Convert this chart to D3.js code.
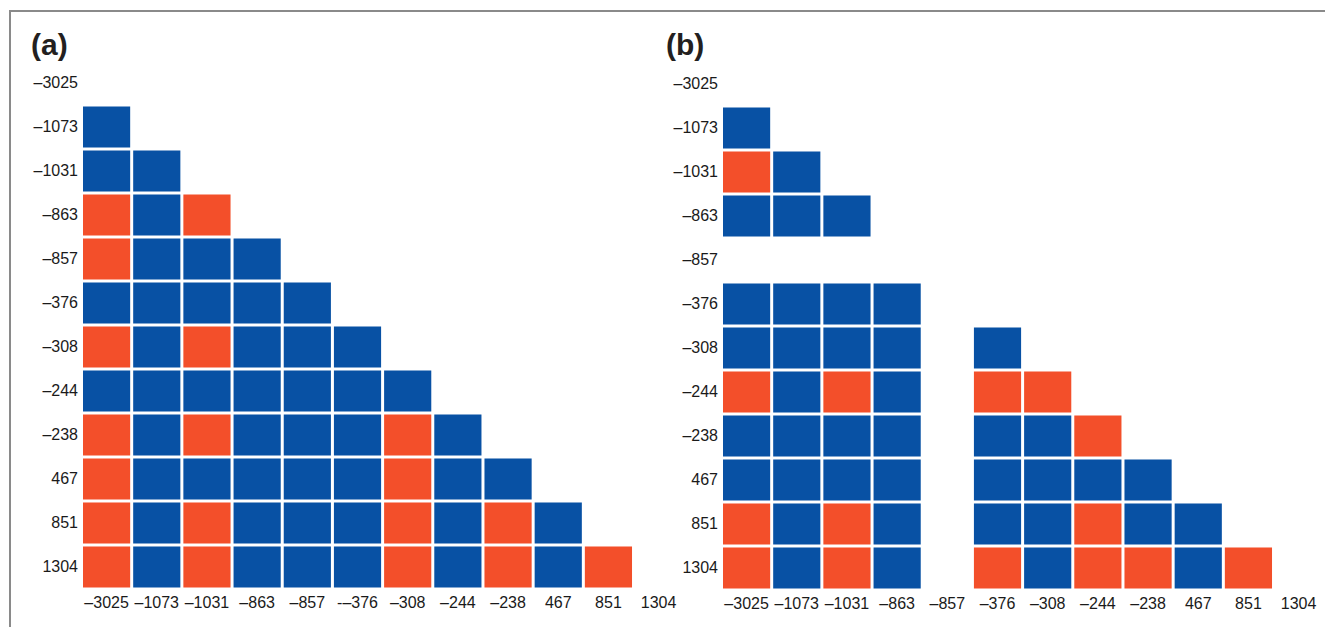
<!DOCTYPE html>
<html>
<head>
    <title>Pairwise matrix</title>
    <script src="https://d3js.org/d3.v7.min.js"></script>
    <style>
        body { margin: 0; background: #fff; }
        text { font-family: "Liberation Sans", Arial, Helvetica, sans-serif; }
    </style>
</head>
<body>
    <svg width="1325" height="627"></svg>
    <script>
        // Labels for both axes (same order for rows and columns)
        var labels = ["-3025", "-1073", "-1031", "-863", "-857", "-376", "-308", "-244", "-238", "467", "851", "1304"];
        // x tick text as printed in panel (a) (the -376 label has a stray dash)
        var xTextA = ["\u20133025", "\u20131073", "\u20131031", "\u2013863", "\u2013857", "-\u2013376", "\u2013308", "\u2013244", "\u2013238", "467", "851", "1304"];
        var xTextB = ["\u20133025", "\u20131073", "\u20131031", "\u2013863", "\u2013857", "\u2013376", "\u2013308", "\u2013244", "\u2013238", "467", "851", "1304"];
        var yText = xTextB;

        // Cell codes per row: R = red, B = blue, "." or missing = empty
        var panelA = [
            "",
            "B",
            "BB",
            "RBR",
            "RBBB",
            "BBBBB",
            "RBRBBB",
            "BBBBBBB",
            "RBRBBBRB",
            "RBBBBBRBB",
            "RBRBBBRBRB",
            "RBRBBBRBRBR"
        ];
        var panelB = [
            "",
            "B",
            "RB",
            "BBB",
            "",
            "BBBB",
            "BBBB.B",
            "RBRB.RR",
            "BBBB.BBR",
            "BBBB.BBBB",
            "RBRB.BBRBB",
            "RBRB.RBRRBR"
        ];

        var colors = { R: "#f34f2a", B: "#0851a4" };

        var svg = d3.select("svg");

        // frame lines (top and left)
        svg.append("line").attr("x1", 10).attr("x2", 1325).attr("y1", 11).attr("y2", 11)
            .attr("stroke", "#8a8a8a").attr("stroke-width", 2);
        svg.append("line").attr("x1", 10).attr("x2", 10).attr("y1", 10).attr("y2", 627)
            .attr("stroke", "#8a8a8a").attr("stroke-width", 2);

        function drawPanel(rows, xText, tag, x0, y0, tagX) {
            var xScale = d3.scaleBand()
                .domain(labels)
                .range([x0, x0 + 50.2 * 11 + 47])
                .paddingInner(0.06);
            var yScale = d3.scaleBand()
                .domain(labels)
                .range([y0, y0 + 44 * 11 + 41])
                .paddingInner(0.068);

            var cells = [];
            rows.forEach(function(r, i) {
                r.split("").forEach(function(c, j) {
                    if (c === "R" || c === "B") cells.push({ row: labels[i], col: labels[j], c: c });
                });
            });

            var g = svg.append("g");
            g.selectAll("rect")
                .data(cells)
                .enter()
                .append("rect")
                .attr("x", function(d) { return xScale(d.col); })
                .attr("y", function(d) { return yScale(d.row); })
                .attr("width", xScale.bandwidth())
                .attr("height", yScale.bandwidth())
                .attr("fill", function(d) { return colors[d.c]; });

            var yAxis = d3.axisLeft(yScale)
                .tickSize(0)
                .tickPadding(5)
                .tickFormat(function(d, i) { return yText[i]; });
            var ya = svg.append("g")
                .attr("transform", "translate(" + x0 + ",0)")
                .call(yAxis);

            var xAxis = d3.axisBottom(xScale)
                .tickSize(0)
                .tickPadding(9)
                .tickFormat(function(d, i) { return xText[i]; });
            var xa = svg.append("g")
                .attr("transform", "translate(0," + (y0 + 44 * 11 + 41) + ")")
                .call(xAxis);

            [ya, xa].forEach(function(a) {
                a.select(".domain").remove();
                a.selectAll("text")
                    .attr("font-size", 16)
                    .attr("font-family", "'Liberation Sans', Arial, sans-serif")
                    .attr("fill", "#1a1a1a");
            });

            svg.append("text")
                .attr("x", tagX)
                .attr("y", 55)
                .attr("font-size", 30)
                .attr("font-weight", "bold")
                .attr("fill", "#231f20")
                .text(tag);
        }

        drawPanel(panelA, xTextA, "(a)", 83, 62.5, 31);
        drawPanel(panelB, xTextB, "(b)", 723, 63.5, 666);
    </script>
</body>
</html>
